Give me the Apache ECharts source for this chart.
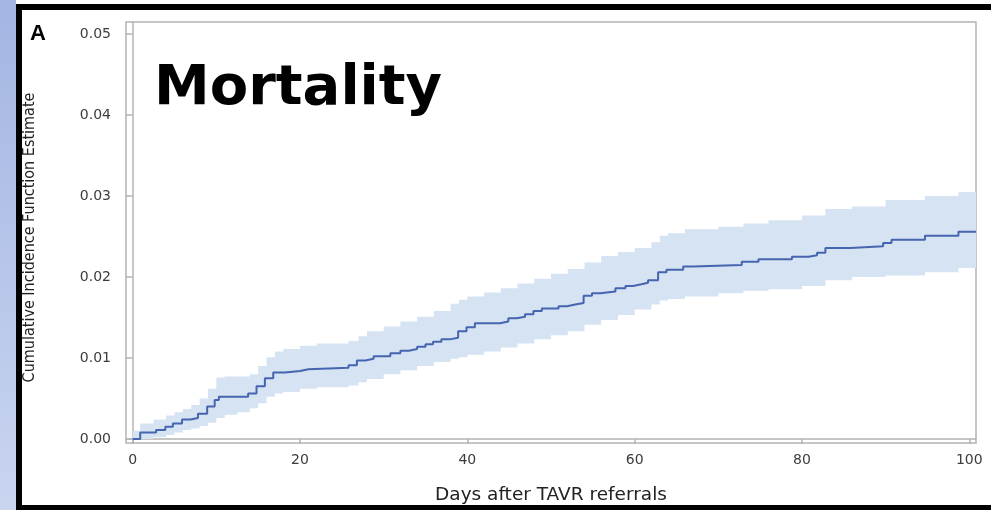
<!DOCTYPE html>
<html>
<head>
<meta charset="utf-8">
<script src="https://cdn.jsdelivr.net/npm/echarts@6/dist/echarts.min.js"></script>
<style>
html,body{margin:0;padding:0;background:#fff;}
#chart{width:991px;height:510px;}
</style>
</head>
<body>
<div id="chart"></div>
<script>
// Cumulative incidence estimate (step function): day of event, value after event
var estDays = [0, 0.9, 2.8, 3.9, 4.8, 5.9, 6.9, 7.8, 8.9, 9.8, 10.3, 13.8, 14.8, 15.8, 16.8, 18.2, 20, 21,
  25.8, 26.8, 27.8, 28.8, 30.8, 32, 33, 34, 35, 35.9, 36.9, 37.9, 38.9, 39.9, 40.9, 43.9, 44.9, 45.9,
  46.9, 47.9, 48.9, 50.9, 51.9, 52.9, 53.9, 54.9, 55.9, 57.7, 58.9, 59.8, 60.8, 61.6, 62.8, 63.8,
  65.8, 67, 72.8, 74.8, 78.8, 80.8, 81.8, 82.8, 85.8, 89.7, 90.7, 94.7, 98.7, 100.8];
var estValues = [0, 0.0008, 0.0011, 0.0015, 0.0019, 0.0024, 0.0026, 0.0031, 0.0040, 0.0048, 0.0052, 0.0056,
  0.0065, 0.0075, 0.0082, 0.0084, 0.0086, 0.0088, 0.0091, 0.0097, 0.0099, 0.0102, 0.0106, 0.0109, 0.0111,
  0.0114, 0.0117, 0.0120, 0.0123, 0.0125, 0.0133, 0.0138, 0.0143, 0.0145, 0.0149, 0.0151, 0.0154, 0.0158,
  0.0161, 0.0164, 0.0166, 0.0168, 0.0177, 0.0180, 0.0182, 0.0186, 0.0189, 0.0191, 0.0193, 0.0196, 0.0206,
  0.0209, 0.0213, 0.0215, 0.0219, 0.0222, 0.0225, 0.0227, 0.0230, 0.0236, 0.0238, 0.0242, 0.0246, 0.0251,
  0.0256, 0.0256];

// Confidence band
var bandDays = [0, 0.9, 2.5, 4, 5, 6, 7, 8, 9, 10, 11, 12.5, 14, 15, 16, 17, 18, 20, 22, 25.8, 27, 28, 30,
  32, 34, 36, 38, 39, 40, 42, 44, 46, 48, 50, 52, 54, 56, 58, 60, 62, 63, 64, 66, 70, 73, 76, 80, 82.8,
  86, 90, 94.7, 98.7, 100.8];
var bandUpper = [0.0010, 0.0019, 0.0024, 0.0029, 0.0033, 0.0037, 0.0042, 0.0050, 0.0062, 0.0076, 0.0077,
  0.0077, 0.0080, 0.0090, 0.0101, 0.0108, 0.0111, 0.0115, 0.0118, 0.0121, 0.0127, 0.0133, 0.0139, 0.0145,
  0.0151, 0.0158, 0.0167, 0.0172, 0.0176, 0.0181, 0.0186, 0.0192, 0.0198, 0.0204, 0.0210, 0.0218, 0.0226,
  0.0231, 0.0236, 0.0243, 0.0251, 0.0254, 0.0259, 0.0262, 0.0266, 0.0270, 0.0276, 0.0284, 0.0287, 0.0295,
  0.0300, 0.0305, 0.0306];
var bandLower = [0, 0, 0.0002, 0.0005, 0.0008, 0.0011, 0.0013, 0.0016, 0.0020, 0.0026, 0.0030, 0.0033,
  0.0038, 0.0044, 0.0052, 0.0056, 0.0058, 0.0062, 0.0064, 0.0066, 0.0070, 0.0074, 0.0080, 0.0085, 0.0090,
  0.0095, 0.0099, 0.0101, 0.0104, 0.0108, 0.0113, 0.0118, 0.0123, 0.0128, 0.0133, 0.0141, 0.0147, 0.0153,
  0.0160, 0.0166, 0.0171, 0.0173, 0.0176, 0.0180, 0.0183, 0.0185, 0.0189, 0.0196, 0.0200, 0.0202, 0.0206,
  0.0211, 0.0213];

var xTicks = [0, 20, 40, 60, 80, 100];
var yTicks = [0, 0.01, 0.02, 0.03, 0.04, 0.05];

var titleText = 'Mortality';
var panelLabel = 'A';
var xName = 'Days after TAVR referrals';
var yName = 'Cumulative Incidence Function Estimate';

var estData = estDays.map(function (d, i) { return [d, estValues[i]]; });

var chart = echarts.init(document.getElementById('chart'), null, {renderer: 'canvas'});

var tickFont = {fontFamily: 'DejaVu Sans', fontSize: 14, color: '#3c3c3c'};

var option = {
  animation: false,
  backgroundColor: '#ffffff',
  grid: {
    left: 126, right: 15, top: 22, bottom: 59,
    show: true, backgroundColor: '#ffffff', borderColor: '#b4b4b4', borderWidth: 1.5
  },
  xAxis: {
    type: 'value', min: -0.8, max: 100.8,
    splitLine: {show: false},
    axisLine: {show: true, lineStyle: {color: '#b4b4b4', width: 1.5}},
    axisTick: {show: true, length: 5, customValues: xTicks, lineStyle: {color: '#b4b4b4', width: 1.5}},
    axisLabel: Object.assign({customValues: xTicks, margin: 10}, tickFont),
    name: xName, nameLocation: 'middle', nameGap: 43,
    nameTextStyle: {fontFamily: 'DejaVu Sans', fontSize: 18.5, color: '#222'}
  },
  yAxis: {
    type: 'value', min: -0.0005, max: 0.0515,
    splitLine: {show: false},
    axisLine: {show: true, lineStyle: {color: '#b4b4b4', width: 1.5}},
    axisTick: {show: true, length: 7, customValues: yTicks, lineStyle: {color: '#b4b4b4', width: 1.5}},
    axisLabel: Object.assign({customValues: yTicks, margin: 15, formatter: function (v) { return v.toFixed(2); }}, tickFont),
    name: yName, nameLocation: 'middle', nameGap: 88,
    nameTextStyle: {fontFamily: '"DejaVu Sans Condensed", "Liberation Sans Narrow", sans-serif', fontSize: 16, color: '#222', padding: [0, 10, 0, 0]}
  },
  graphic: [
    {type: 'rect', z: -10, silent: true, shape: {x: 0, y: 0, width: 16, height: 510},
      style: {fill: new echarts.graphic.LinearGradient(0, 0, 0, 1, [{offset: 0, color: '#a3b5e3'}, {offset: 1, color: '#c9d4ef'}])}},
    {type: 'rect', z: 100, silent: true, shape: {x: 16, y: 4, width: 975, height: 6}, style: {fill: '#000'}},
    {type: 'rect', z: 100, silent: true, shape: {x: 16, y: 4, width: 6, height: 506}, style: {fill: '#000'}},
    {type: 'rect', z: 100, silent: true, shape: {x: 16, y: 505, width: 975, height: 5}, style: {fill: '#000'}},
    {type: 'text', z: 100, left: 30, top: 23, style: {text: panelLabel, font: 'bold 22px "Liberation Sans"', fill: '#000'}},
    {type: 'text', z: 100, x: 154, y: 89, style: {text: titleText, font: 'bold 56px "DejaVu Sans"', fill: '#000', verticalAlign: 'middle'}}
  ],
  series: [
    {
      type: 'custom', name: 'band', clip: true, silent: true, z: 1,
      data: [[0, 0]],
      renderItem: function (params, api) {
        var pts = [];
        var i;
        for (i = 0; i < bandDays.length; i++) {
          pts.push(api.coord([bandDays[i], bandUpper[i]]));
          if (i + 1 < bandDays.length) pts.push(api.coord([bandDays[i + 1], bandUpper[i]]));
        }
        for (i = bandDays.length - 1; i >= 0; i--) {
          if (i + 1 < bandDays.length) pts.push(api.coord([bandDays[i + 1], bandLower[i]]));
          pts.push(api.coord([bandDays[i], bandLower[i]]));
        }
        return {type: 'polygon', shape: {points: pts}, style: {fill: '#d6e3f2', stroke: null}};
      }
    },
    {
      type: 'line', name: 'estimate', data: estData, step: 'end', showSymbol: false, z: 3,
      lineStyle: {color: '#4565b0', width: 2}
    }
  ]
};
chart.setOption(option);
</script>
</body>
</html>
